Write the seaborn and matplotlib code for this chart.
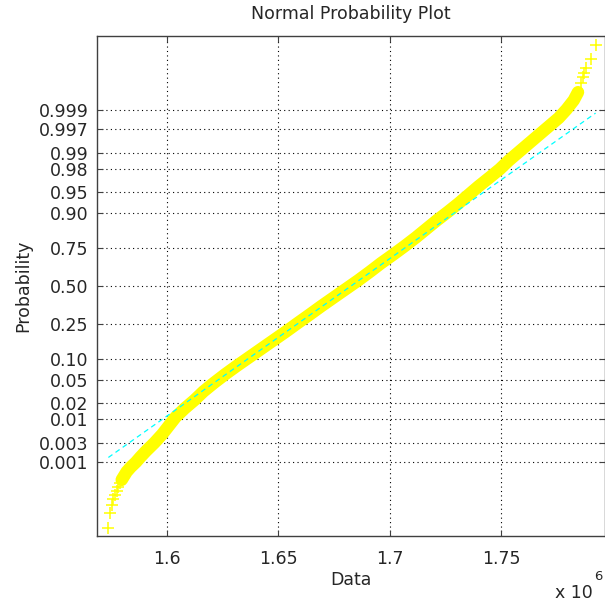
import matplotlib
matplotlib.use("Agg")
import matplotlib.pyplot as plt
import seaborn as sns
import pandas as pd
import numpy as np
from statistics import NormalDist

# ---- data ----
# normal quantile (z) of each plotted point and its sorted data value (x 10^6)
quantile_z = [-4.25, -3.99, -3.84, -3.74, -3.67, -3.59, -3.52, -3.45, -3.40, -3.33,
              -3.26, -3.18, -3.09, -3.00, -2.90, -2.75, -2.60, -2.45, -2.30, -2.15,
              -2.00, -1.85, -1.70, -1.55, -1.40, -1.25, -1.10, -0.95, -0.80, -0.65,
              -0.50, -0.35, -0.20, -0.05, 0.10, 0.25, 0.40, 0.55, 0.70, 0.85,
              1.00, 1.15, 1.30, 1.45, 1.60, 1.75, 1.90, 2.05, 2.20, 2.35,
              2.50, 2.65, 2.80, 2.95, 3.10, 3.26, 3.40, 3.56, 3.66, 3.74,
              3.82, 3.98, 4.23]
data_values = [1.5738, 1.5745, 1.5753, 1.5760, 1.5768, 1.5775, 1.5783, 1.5791, 1.5798, 1.5809,
               1.5820, 1.5838, 1.5862, 1.5882, 1.5906, 1.5945, 1.5980, 1.6010, 1.6040, 1.6080,
               1.6125, 1.6165, 1.6212, 1.6262, 1.6315, 1.6370, 1.6425, 1.6480, 1.6535, 1.6588,
               1.6642, 1.6695, 1.6750, 1.6805, 1.6860, 1.6912, 1.6962, 1.7016, 1.7068, 1.7118,
               1.7165, 1.7212, 1.7262, 1.7310, 1.7355, 1.7400, 1.7448, 1.7495, 1.7535, 1.7580,
               1.7625, 1.7670, 1.7715, 1.7760, 1.7795, 1.7827, 1.7846, 1.7860, 1.7868, 1.7874,
               1.7880, 1.7905, 1.7925]

# reference line (fit through the quartiles)
fit_mu = 1.6827
fit_sigma = 0.0362

prob_ticks = [0.001, 0.003, 0.01, 0.02, 0.05, 0.10, 0.25, 0.50, 0.75, 0.90,
              0.95, 0.98, 0.99, 0.997, 0.999]
prob_labels = ["0.001", "0.003", "0.01", "0.02", "0.05", "0.10", "0.25", "0.50",
               "0.75", "0.90", "0.95", "0.98", "0.99", "0.997", "0.999"]
x_ticks = [1.6, 1.65, 1.7, 1.75]
x_labels = ["1.6", "1.65", "1.7", "1.75"]

# ---- figure ----
sns.set_style("white")
plt.rcParams["font.family"] = ["DejaVu Sans"]
FS = 12.5
TXT = "#262626"

fig = plt.figure(figsize=(6.05, 6.04), dpi=100)
ax = fig.add_axes([97 / 605, 1 - 536 / 604, (604.5 - 97) / 605, (536 - 36) / 604])

df = pd.DataFrame({"z": quantile_z, "x": data_values})
dense = df[(df["z"] > -3.45) & (df["z"] < 3.45)]

sns.lineplot(data=dense, x="x", y="z", sort=False, color="#ffff00", lw=9,
             solid_capstyle="round", ax=ax, zorder=2)
sns.scatterplot(data=df, x="x", y="z", marker="+", s=70, color="#ffff00",
                linewidth=1.1, ax=ax, zorder=3)

# reference line from data min to data max
xmin, xmax = min(data_values), max(data_values)
line_df = pd.DataFrame({"x": [xmin, xmax],
                        "z": [(xmin - fit_mu) / fit_sigma, (xmax - fit_mu) / fit_sigma]})
sns.lineplot(data=line_df, x="x", y="z", color="#00ffff", lw=0.9, ax=ax, zorder=4,
             linestyle=(0, (4, 3)))

nd = NormalDist()
ax.set_yticks([nd.inv_cdf(p) for p in prob_ticks])
ax.set_yticklabels(prob_labels)
ax.set_xticks(x_ticks)
ax.set_xticklabels(x_labels)
ax.set_xlim(1.5687, 1.7965)
ax.set_ylim(-4.386, 4.386)

ax.grid(True, color="black", linestyle=(0, (1, 3)), linewidth=0.8)
ax.set_axisbelow(True)
ax.tick_params(direction="in", length=4, width=0.8, color="#404040",
               top=True, right=True, bottom=True, left=True,
               labelsize=FS, labelcolor=TXT)
ax.tick_params(axis="x", pad=10)
ax.tick_params(axis="y", pad=6)
for s in ax.spines.values():
    s.set_color("#404040")
    s.set_linewidth(1.0)
    s.set_visible(True)

ax.set_xlabel("Data", fontsize=FS, labelpad=2, color=TXT)
ax.set_ylabel("Probability", fontsize=FS, labelpad=5, color=TXT)
ax.set_title("Normal Probability Plot", fontsize=FS, pad=12, color=TXT)
if ax.get_legend():
    ax.get_legend().remove()

fig.text(593 / 605, 1 - 593 / 604, "x 10", fontsize=FS, va="center", ha="right", color=TXT)
fig.text(594 / 605, 1 - 576 / 604, "6", fontsize=9.5, va="center", ha="left", color=TXT)

fig.savefig("out.png", dpi=100, facecolor="white")
